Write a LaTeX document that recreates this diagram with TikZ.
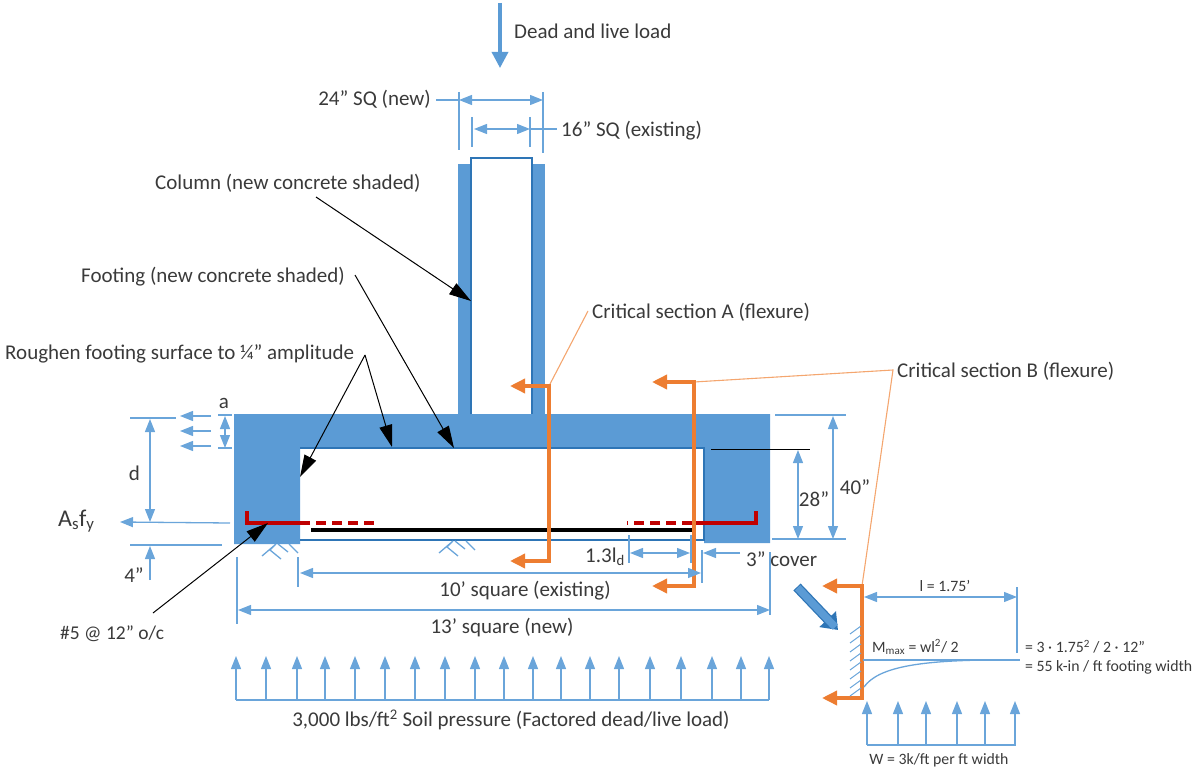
\documentclass[tikz,border=0pt]{standalone}
\usepackage{fontspec}
\setmainfont{Carlito}
\usetikzlibrary{arrows.meta}
\definecolor{conc}{HTML}{5B9BD5}
\definecolor{edgeb}{HTML}{2E75B6}
\definecolor{dimb}{HTML}{6AA5DA}
\definecolor{sect}{HTML}{ED7D31}
\definecolor{thinor}{HTML}{F4A66F}
\definecolor{rebar}{HTML}{C00000}
\definecolor{txt}{HTML}{3A3A3A}
\begin{document}
\begin{tikzpicture}[x=1pt,y=-1pt]
\tikzset{lbl/.style = {text=txt, font=\fontsize{21}{23}\selectfont, inner sep=0pt, yshift=-1pt},
small/.style = {text=txt, font=\fontsize{15.8}{17}\selectfont, inner sep=0pt},
dimline/.style = {draw=dimb, line width=1.3pt},
dimtwo/.style = {dimline, {Triangle[length=13pt,width=10pt]}-{Triangle[length=13pt,width=10pt]}},
dimone/.style = {dimline, -{Triangle[length=13pt,width=10pt]}},
leader/.style = {draw=black, line width=1pt, -{Triangle[length=22pt,width=13pt]}},
sectline/.style = {draw=sect, line width=3.5pt, {Triangle[length=15pt,width=14pt]}-{Triangle[length=15pt,width=14pt]}},
thinline/.style = {draw=thinor, line width=1.1pt}}
\useasboundingbox (0,0) rectangle (1200,773);
\fill[conc] (458,164) rectangle (545,416);
\fill[conc] (234,414) -- (770,414) -- (770,543) -- (704,543) -- (704,448) -- (300,448) -- (300,544) -- (234,544) -- cycle;
\filldraw[fill=white,draw=edgeb,line width=1.4pt] (471,414) -- (471,158) -- (532,158) -- (532,414);
\draw[edgeb,line width=1.8pt] (300,448) -- (704,448) -- (704,540) -- (300,540);

\coordinate (rA) at (247,511); \coordinate (rB) at (247,523); \coordinate (rC) at (300,523); \coordinate (rD) at (376,523);
\coordinate (rE) at (756,511); \coordinate (rF) at (756,523); \coordinate (rG) at (692,523); \coordinate (rH) at (627,523);
\draw[rebar,line width=3.4pt] (rA) -- (rB) -- (rC) (rE) -- (rF) -- (rG);
\draw[rebar,line width=3.4pt,dash pattern=on 10pt off 6pt] (rC) -- (rD) (rG) -- (rH);
\coordinate (barL) at (311,530); \coordinate (barR) at (692,530);
\draw[black,line width=3.8pt] (barL) -- (barR);

\node[lbl,anchor=west] (load) at (514,30) {Dead and live load};
\coordinate (loadT) at (500,3); \coordinate (loadB) at (500,68);
\draw[draw=conc,line width=3.4pt,-{Triangle[length=16pt,width=16pt]}] (loadT) -- (loadB);

\node[lbl,anchor=east] (newsq) at (431,98) {24” SQ (new)};
\node[lbl,anchor=west] (oldsq) at (561,130) {16” SQ (existing)};
\coordinate (n1) at (459,92); \coordinate (n2) at (459,150); \coordinate (n3) at (543,92); \coordinate (n4) at (543,153);
\coordinate (n5) at (459,100); \coordinate (n6) at (543,100); \coordinate (n7) at (436,100);
\coordinate (o1) at (472,117); \coordinate (o2) at (472,147); \coordinate (o3) at (530,117); \coordinate (o4) at (530,147);
\coordinate (o5) at (474,129); \coordinate (o6) at (530,129); \coordinate (o7) at (557,129);
\draw[dimline] (n1) -- (n2) (n3) -- (n4) (o1) -- (o2) (o3) -- (o4) (n7) -- (n5) (o6) -- (o7);
\draw[dimtwo] (n5) -- (n6);
\draw[dimtwo] (o5) -- (o6);

\node[lbl,anchor=west] (col) at (155,182) {Column (new concrete shaded)};
\node[lbl,anchor=west] (foot) at (81,276) {Footing (new concrete shaded)};
\node[lbl,anchor=west] (rough) at (5,353) {Roughen footing surface to ¼” amplitude};
\node[lbl,anchor=west,font=\fontsize{19.5}{21}\selectfont] (bars) at (60,633) {\#5 @ 12” o/c};
\coordinate (c1) at (316,197); \coordinate (c2) at (471,301); \coordinate (f1) at (355,275); \coordinate (f2) at (454,448);
\coordinate (g1) at (365,355); \coordinate (g2) at (300,477); \coordinate (g3) at (392,447);
\coordinate (b1) at (153,613); \coordinate (b2) at (268,523);
\draw[leader] (c1) -- (c2);
\draw[leader] (f1) -- (f2);
\draw[leader] (g1) -- (g2);
\draw[leader] (g1) -- (g3);
\draw[leader] (b1) -- (b2);

\node[lbl,anchor=west] (secA) at (592,311) {Critical section A (flexure)};
\node[lbl,anchor=west] (secB) at (897,370) {Critical section B (flexure)};
\coordinate (a1) at (510,386); \coordinate (a2) at (549,386); \coordinate (a3) at (549,561); \coordinate (a4) at (510,561);
\coordinate (b3) at (652,382); \coordinate (b4) at (694,382); \coordinate (b5) at (694,586); \coordinate (b6) at (652,586);
\coordinate (s1) at (822,586); \coordinate (s2) at (862,586); \coordinate (s3) at (862,698); \coordinate (s4) at (822,698);
\coordinate (tA) at (588,311); \coordinate (tB) at (893,370);
\draw[thinline] (a2) -- (tA) (b4) -- (tB) -- (s2);
\draw[sectline] (a1) -- (a2) -- (a3) -- (a4);
\draw[sectline] (b3) -- (b4) -- (b5) -- (b6);
\draw[sectline] (s1) -- (s2) -- (s3) -- (s4);

\node[lbl,anchor=east] (dlab) at (140,472) {d};
\node[lbl] (alab) at (224,402) {a};
\node[lbl,anchor=west,font=\fontsize{24}{26}\selectfont] (asfy) at (58,520) {A\textsubscript{s}f\textsubscript{y}};
\node[lbl] (four) at (134,574) {4”};
\coordinate (d1) at (130,418); \coordinate (d2) at (176,418); \coordinate (d3) at (150,419); \coordinate (d4) at (150,522);
\coordinate (d5) at (230,523); \coordinate (d6) at (120,522); \coordinate (d7) at (130,545); \coordinate (d8) at (222,545);
\coordinate (d9) at (150,580); \coordinate (d10) at (150,546);
\draw[dimline] (d1) -- (d2) (d7) -- (d8);
\draw[dimtwo] (d3) -- (d4);
\draw[dimone] (d5) -- (d6);
\draw[dimone] (d9) -- (d10);
\foreach \y in {416,431,446} {
\coordinate (e1) at (211,\y); \coordinate (e2) at (180,\y);
\draw[dimone] (e1) -- (e2);
}
\coordinate (h1) at (218,415); \coordinate (h2) at (232,415); \coordinate (h3) at (218,448); \coordinate (h4) at (232,448);
\coordinate (h5) at (225,416); \coordinate (h6) at (225,448);
\draw[dimline] (h1) -- (h2) (h3) -- (h4);
\draw[dimtwo] (h5) -- (h6);

\foreach \x/\y in {276/544,453/541} {
\draw[dimline] (\x,\y) -- (\x-14,\y+12) (\x,\y) -- (\x-6,\y+6) -- (\x+5,\y+15) (\x+13,\y) -- (\x+22,\y+9) (\x+2,\y) -- (\x+12,\y+8);
}

\node[lbl] (sq10) at (525,590) {10’ square (existing)};
\node[lbl] (sq13) at (502,627) {13’ square (new)};
\node[lbl,anchor=west] (cover) at (746,558) {3” cover};
\node[lbl,anchor=east] (ld) at (625,556) {1.3l\textsubscript{d}};
\coordinate (t1) at (298,557); \coordinate (t2) at (298,587); \coordinate (t3) at (702,550); \coordinate (t4) at (702,583);
\coordinate (t5) at (237,557); \coordinate (t6) at (237,624); \coordinate (t7) at (770,552); \coordinate (t8) at (770,615);
\coordinate (t9) at (629,535); \coordinate (t10) at (629,563); \coordinate (t11) at (691,535); \coordinate (t12) at (691,563);
\coordinate (u1) at (300,573); \coordinate (u2) at (701,573); \coordinate (u3) at (238,610); \coordinate (u4) at (770,610);
\coordinate (u5) at (630,553); \coordinate (u6) at (690,553); \coordinate (u7) at (740,553); \coordinate (u8) at (703,553);
\draw[dimline] (t1) -- (t2) (t3) -- (t4) (t5) -- (t6) (t7) -- (t8) (t9) -- (t10) (t11) -- (t12);
\draw[dimtwo] (u1) -- (u2);
\draw[dimtwo] (u3) -- (u4);
\draw[dimtwo] (u5) -- (u6);
\draw[dimone] (u7) -- (u8);

\node[lbl] (d28) at (814,498) {28”};
\node[lbl] (d40) at (855,486) {40”};
\coordinate (k1) at (711,449); \coordinate (k2) at (810,449); \coordinate (k3) at (772,539); \coordinate (k4) at (846,539);
\coordinate (k5) at (775,415); \coordinate (k6) at (846,415); \coordinate (k7) at (798,450); \coordinate (k8) at (798,539); \coordinate (k9) at (833,416); \coordinate (k10) at (833,539);
\draw[black,line width=1pt] (k1) -- (k2);
\draw[dimline] (k3) -- (k4) (k5) -- (k6);
\draw[dimtwo] (k7) -- (k8);
\draw[dimtwo] (k9) -- (k10);

\coordinate (soilL) at (236,700); \coordinate (soilR) at (769,700);
\draw[dimline] (soilL) -- (soilR);
\foreach \x in {236,266,297,325,355,385,415,445,475,504,533,561,590,619,650,681,712,741,769} {
\coordinate (p1) at (\x,700); \coordinate (p2) at (\x,656);
\draw[dimone] (p1) -- (p2);
}
\node[lbl] (soil) at (511,719) {3,000 lbs/ft\textsuperscript{2} Soil pressure (Factored dead/live load)};

\coordinate (f3) at (797,587); \coordinate (f4) at (838,630);
\draw[draw=edgeb,line width=10pt,-{Triangle[length=15pt,width=22pt]}] (f3) -- (f4);
\draw[draw=conc,line width=7.5pt,shorten >=4pt,shorten <=1pt] (f3) -- (f4);

\foreach \y in {634,643,652,661,670,679,688,696} {
\draw[dimb,line width=1pt] (850,\y) -- (861,\y-8);
}
\node[small] (ell) at (945,586) {l = 1.75’};
\node[small,anchor=west] (mmax) at (872,647) {M\textsubscript{max} = wl\textsuperscript{2}/ 2};
\node[small,anchor=west] (eq1) at (1025,647) {= 3 · 1.75\textsuperscript{2} / 2 · 12”};
\node[small,anchor=west] (eq2) at (1025,667) {= 55 k-in / ft footing width};
\node[small] (wlab) at (939,760) {W = 3k/ft per ft width};
\coordinate (q1) at (864,597); \coordinate (q2) at (1017,597); \coordinate (q3) at (1017,587); \coordinate (q4) at (1017,653);
\coordinate (q5) at (863,660); \coordinate (q6) at (1020,660); \coordinate (q7) at (864,687); \coordinate (q8) at (985,660);
\draw[dimtwo] (q1) -- (q2);
\draw[dimline] (q3) -- (q4) (q5) -- (q6);
\draw[dimline] (q7) .. controls (878,667) and (920,661) .. (q8);
\coordinate (wL) at (867,745); \coordinate (wR) at (1016,745);
\draw[dimline] (wL) -- (wR);
\foreach \x in {867,898,926,957,985,1015} {
\coordinate (p3) at (\x,745); \coordinate (p4) at (\x,701);
\draw[dimone] (p3) -- (p4);
}
\end{tikzpicture}
\end{document}
